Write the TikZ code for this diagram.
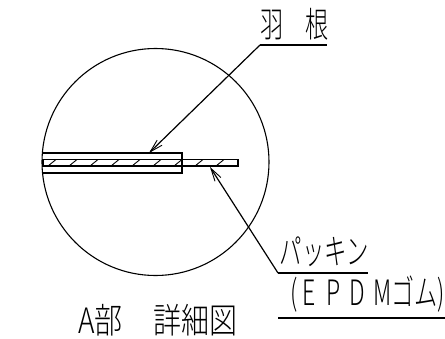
\documentclass[tikz,border=0pt]{standalone}
\usepackage{fontspec}
\newfontfamily\jpfont{Noto Sans CJK JP Light}
\usetikzlibrary{positioning,arrows.meta}

\begin{document}
\begin{tikzpicture}[
  x=1pt, y=-1pt,
  part/.style={draw, line width=1.2pt},
  leader/.style={draw, line width=1.2pt},
  tiparrow/.style={-{Straight Barb[length=13pt,width=7pt,line width=.9pt]}},
  txt/.style={inner sep=0pt, font=\jpfont\fontsize{35pt}{35pt}\selectfont}
]
  \useasboundingbox (0,0) rectangle (445,338);

  \node[circle, draw, line width=1.1pt, minimum size=227pt, inner sep=0pt] (detail) at (155.5,162) {};

  % blade and packing
  \draw[part] (43,153) -- (182,153) -- (182,173) -- (43,173);
  \draw[part] (43,159.5) rectangle (238,166);
  \foreach \i in {0,...,8}
    \draw[line width=.9pt] (48+21*\i,166) -- (56+21*\i,159.5);

  % leaders
  \coordinate (bladetip) at (149,153);
  \coordinate (bladeknee) at (260,45);
  \coordinate (bladeend) at (327,45);
  \coordinate (packtip) at (210,167);
  \coordinate (packknee) at (278,273);
  \coordinate (packend) at (368,273);
  \coordinate (subknee) at (278,318);
  \coordinate (subend) at (445,318);
  \draw[leader, tiparrow] (bladeknee) -- (bladetip);
  \draw[leader] (bladeknee) -- (bladeend);
  \draw[leader, tiparrow] (packknee) -- (packtip);
  \draw[leader] (packknee) -- (packend);
  \draw[leader] (subknee) -- (subend);

  % texts
  \node[txt, xscale=.66] (blade) at (295,24) {羽\kern.95em 根};
  \node[txt, xscale=.64, anchor=east] (pack) at (369,252) {パッキン};
  \node[txt, xscale=.66, anchor=east] (epdm) at (445,294) {(\kern.2em E\kern.45em P\kern.4em D\kern.35em Mゴム)};
  \node[txt, xscale=.8] (title) at (158,320) {A部\kern1.1em 詳細図};
\end{tikzpicture}
\end{document}
